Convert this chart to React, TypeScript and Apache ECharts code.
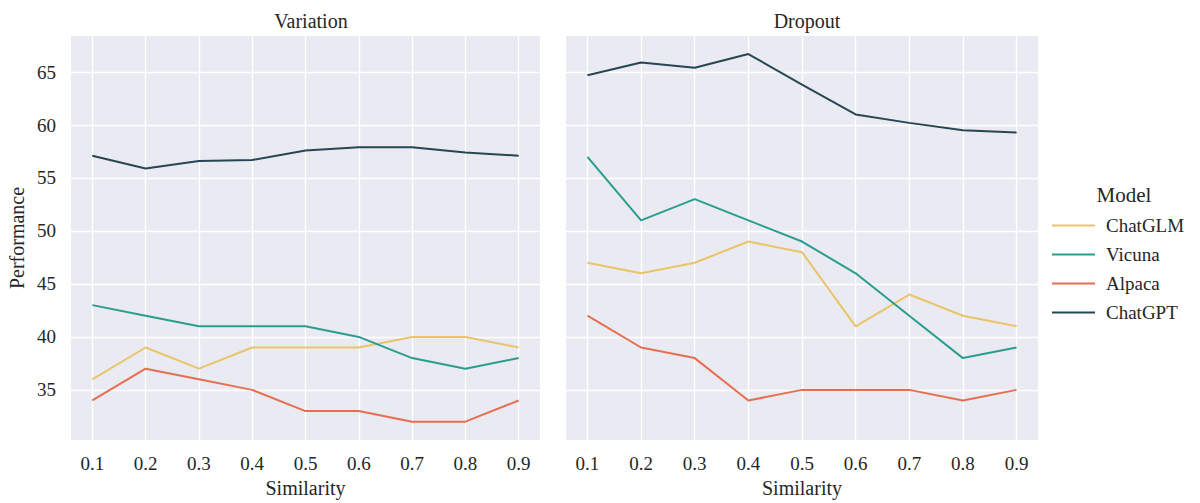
import React, { useEffect, useRef } from "react";
import * as echarts from "echarts";

const similarity = [0.1, 0.2, 0.3, 0.4, 0.5, 0.6, 0.7, 0.8, 0.9];
const models = ["ChatGLM", "Vicuna", "Alpaca", "ChatGPT"];
const colors = ["#e9c46a", "#2a9d8f", "#e76f51", "#264653"];

const variationChatGLM = [36, 39, 37, 39, 39, 39, 40, 40, 39];
const variationVicuna = [43, 42, 41, 41, 41, 40, 38, 37, 38];
const variationAlpaca = [34, 37, 36, 35, 33, 33, 32, 32, 34];
const variationChatGPT = [57.1, 55.9, 56.6, 56.7, 57.6, 57.9, 57.9, 57.4, 57.1];

const dropoutChatGLM = [47, 46, 47, 49, 48, 41, 44, 42, 41];
const dropoutVicuna = [57, 51, 53, 51, 49, 46, 42, 38, 39];
const dropoutAlpaca = [42, 39, 38, 34, 35, 35, 35, 34, 35];
const dropoutChatGPT = [64.7, 65.9, 65.4, 66.7, 63.8, 61.0, 60.2, 59.5, 59.3];

const yTicks = [35, 40, 45, 50, 55, 60, 65];
const xTicks = [0.1, 0.2, 0.3, 0.4, 0.5, 0.6, 0.7, 0.8, 0.9];

const FONT = "'Liberation Serif', 'DejaVu Serif', serif";
const TEXT = "#262626";

export default function App() {
  const ref = useRef<HTMLDivElement>(null);
  useEffect(() => {
    if (!ref.current) return;
    document.body.style.margin = "0";
    const chart = echarts.init(ref.current, undefined, { renderer: "svg" });
    const variation = [variationChatGLM, variationVicuna, variationAlpaca, variationChatGPT];
    const dropout = [dropoutChatGLM, dropoutVicuna, dropoutAlpaca, dropoutChatGPT];
    const mkX = (idx: number) => ({
      type: "value",
      gridIndex: idx,
      min: 0.06,
      max: 0.94,
      name: "Similarity",
      nameLocation: "middle",
      nameGap: 38,
      nameTextStyle: { fontFamily: FONT, fontSize: 20, color: TEXT },
      axisLine: { show: false },
      axisTick: { show: false, customValues: xTicks },
      axisLabel: {
        customValues: xTicks,
        fontFamily: FONT,
        fontSize: 19,
        color: TEXT,
        margin: 14,
        formatter: (v: number) => v.toFixed(1),
      },
      splitLine: { show: true, lineStyle: { color: "#ffffff", width: 1.3 } },
    });
    const mkY = (idx: number) => ({
      type: "value",
      gridIndex: idx,
      min: 30.27,
      max: 68.4,
      name: idx === 0 ? "Performance" : "",
      nameLocation: "middle",
      nameGap: 44,
      nameTextStyle: { fontFamily: FONT, fontSize: 20, color: TEXT },
      axisLine: { show: false },
      axisTick: { show: false, customValues: yTicks },
      axisLabel: {
        show: idx === 0,
        customValues: yTicks,
        fontFamily: FONT,
        fontSize: 19,
        color: TEXT,
        margin: 15,
      },
      splitLine: { show: true, lineStyle: { color: "#ffffff", width: 1.3 } },
    });
    const series: any[] = [];
    [variation, dropout].forEach((set, gi) => {
      set.forEach((vals, mi) => {
        series.push({
          type: "line",
          name: models[mi],
          xAxisIndex: gi,
          yAxisIndex: gi,
          data: similarity.map((s, i) => [s, vals[i]]),
          showSymbol: false,
          symbol: "none",
          lineStyle: { color: colors[mi], width: 2 },
          itemStyle: { color: colors[mi] },
        });
      });
    });
    chart.setOption({
      animation: false,
      grid: [
        { left: 71, right: 660, top: 36, bottom: 63, show: true, backgroundColor: "#eaeaf2", borderWidth: 0 },
        { left: 566, right: 162, top: 36, bottom: 63, show: true, backgroundColor: "#eaeaf2", borderWidth: 0 },
      ],
      title: [
        { text: "Variation", left: 306, top: 6, textAlign: "center", textStyle: { fontFamily: FONT, fontSize: 20, fontWeight: "normal", color: TEXT } },
        { text: "Dropout", left: 802, top: 6, textAlign: "center", textStyle: { fontFamily: FONT, fontSize: 20, fontWeight: "normal", color: TEXT } },
        { text: "Model", left: 1119, top: 179, textAlign: "center", textStyle: { fontFamily: FONT, fontSize: 21, fontWeight: "normal", color: TEXT } },
      ],
      legend: {
        data: models,
        orient: "vertical",
        left: 1047,
        top: 211,
        icon: "rect",
        itemWidth: 43,
        itemHeight: 2,
        itemGap: 10,
        textStyle: { fontFamily: FONT, fontSize: 19, color: TEXT, padding: [0, 0, 0, 6] },
      },
      xAxis: [mkX(0), mkX(1)],
      yAxis: [mkY(0), mkY(1)],
      series,
    });
    return () => chart.dispose();
  }, []);
  return <div ref={ref} style={{ width: 1200, height: 503 }} />;
}
